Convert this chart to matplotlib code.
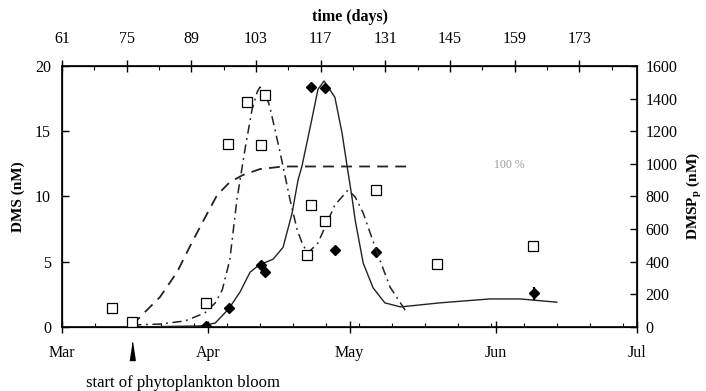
import numpy as np
import matplotlib
matplotlib.use("Agg")
import matplotlib.pyplot as plt
import matplotlib.transforms as mtransforms

plt.rcParams['font.family'] = ['Liberation Serif', 'DejaVu Serif']

# DMSP_p measurements (open squares, right axis)
sq_day = [71.6, 75.9, 91.6, 96.2, 100.3, 103.2, 104.1, 113.0, 113.8, 116.8, 127.6, 140.6, 160.9]
sq_dmsp = [116, 31, 147, 1122, 1380, 1116, 1422, 441, 748, 650, 840, 386, 496]

# DMS measurements (filled diamonds, left axis)
dia_day = [75.6, 91.6, 96.4, 103.2, 104.1, 113.8, 116.8, 118.9, 127.6, 161.1]
dia_dms = [0.0, 0.05, 1.45, 4.75, 4.2, 18.4, 18.3, 5.9, 5.75, 2.6]
dia_err = [0, 0, 0, 0, 0, 0, 0, 0, 0, 0.5]

# solid fit curve through DMS
fit_dms_day = [75.6, 90.3, 93.5, 96.4, 98.8, 100.9, 103.0, 104.5, 105.8, 107.9, 109.8, 111.1,
               111.9, 114.0, 115.3, 116.6, 118.9, 120.4, 121.5, 122.5, 123.2, 124.9,
               127.0, 129.5, 132.7, 133.1, 141.2, 151.8, 158.2, 166.0]
fit_dms = [0, 0.08, 0.3, 1.4, 2.7, 4.2, 4.8, 5.0, 5.2, 6.1, 8.7, 11.3,
           12.3, 15.9, 18.2, 18.85, 17.6, 14.9, 12.3, 10.0, 8.2, 4.9,
           3.0, 1.85, 1.55, 1.55, 1.85, 2.15, 2.15, 1.9]

# dash-dot fit curve through DMSP_p
fit_dmsp_day = [75.9, 81.8, 87.1, 91.3, 93.5, 95.0, 96.6, 98.1, 99.8, 101.3, 102.4, 103.0,
                104.1, 105.1, 107.3, 109.4, 110.9, 112.1, 113.2, 115.3, 117.2, 118.9,
                120.4, 121.7, 123.2, 124.9, 127.8, 130.6, 134.2]
fit_dmsp = [12, 18, 37, 86, 147, 227, 411, 778, 1085, 1330, 1440, 1471,
            1440, 1349, 1067, 778, 595, 503, 454, 515, 638, 748,
            797, 840, 797, 699, 460, 245, 86]

# dashed curve (relative, reaches 100 %)
pct_day = [75.9, 78.2, 81.8, 85.4, 88.6, 91.3, 93.9, 96.6, 99.4, 103.0, 107.9, 135.3]
pct_val = [0.15, 1.0, 2.3, 4.2, 6.5, 8.35, 10.1, 11.1, 11.65, 12.1, 12.3, 12.3]

month_days = [61, 92, 122, 153, 183]
month_labels = ['Mar', 'Apr', 'May', 'Jun', 'Jul']
top_days = list(range(61, 174, 14))
bloom_day = 75.9

fig = plt.figure(figsize=(7.06, 3.91), dpi=100)
ax = fig.add_axes([0.0878, 0.1637, 0.8145, 0.6675])

ax.plot(fit_dms_day, fit_dms, color='#222222', lw=1.0, zorder=3)
ax.plot(pct_day, pct_val, color='#222222', lw=1.3, linestyle=(0, (6, 4)), zorder=3)
ax.errorbar(dia_day, dia_dms, yerr=dia_err, fmt='D', color='black', ms=5,
            elinewidth=1.5, capsize=0, zorder=5)
ax.set_xlim(61, 183)
ax.set_ylim(0, 20)
ax.set_yticks([0, 5, 10, 15, 20])
ax.set_xticks(month_days)
ax.set_xticklabels(month_labels)
ax.set_xticks(np.arange(68, 183, 7), minor=True)
ax.tick_params(axis='y', direction='in', length=5, width=1, pad=8, labelsize=11.5)
ax.tick_params(axis='x', which='major', direction='inout', length=8, width=1, pad=9, labelsize=11.5)
ax.tick_params(axis='x', which='minor', direction='in', length=3, width=0.8)
ax.set_ylabel('DMS (nM)', fontweight='bold', fontsize=11, labelpad=7)
for s in ax.spines.values():
    s.set_linewidth(1.2)

ax2 = ax.twinx()
ax2.plot(sq_day, sq_dmsp, 's', mfc='white', mec='black', ms=6.5, mew=0.9, zorder=4)
ax2.plot(fit_dmsp_day, fit_dmsp, color='#222222', lw=1.1, linestyle=(0, (6, 3, 1.2, 3)), zorder=3)
ax2.set_ylim(0, 1600)
ax2.set_yticks(np.arange(0, 1601, 200))
ax2.tick_params(axis='y', direction='in', length=5, width=1, pad=6, labelsize=11.5)
ax2.set_ylabel('DMSP$_\\mathregular{p}$ (nM)', fontweight='bold', fontsize=11,
               rotation=90, labelpad=5)

ax3 = ax.twiny()
ax3.set_xlim(61, 185.5)
ax3.set_xticks(top_days)
ax3.set_xticks(np.arange(68, 185, 14), minor=True)
ax3.tick_params(axis='x', which='major', direction='inout', length=8, width=1, pad=10, labelsize=11.5)
ax3.tick_params(axis='x', which='minor', direction='in', length=3, width=0.8)
ax3.set_xlabel('time (days)', fontweight='bold', fontsize=11.5, labelpad=7)

ax.text(156, 12.4, '100 %', color='#999999', fontsize=8.5, ha='center', va='center')

trans = mtransforms.blended_transform_factory(ax.transData, ax.transAxes)
ax.plot([bloom_day], [-0.093], marker=[(-0.3, -1), (0.3, -1), (0, 1)], ms=13,
        color='black', transform=trans, clip_on=False)
ax.text(86.7, -0.215, 'start of phytoplankton bloom', transform=trans,
        ha='center', va='center', fontsize=12)

fig.savefig('out.png', dpi=100)
